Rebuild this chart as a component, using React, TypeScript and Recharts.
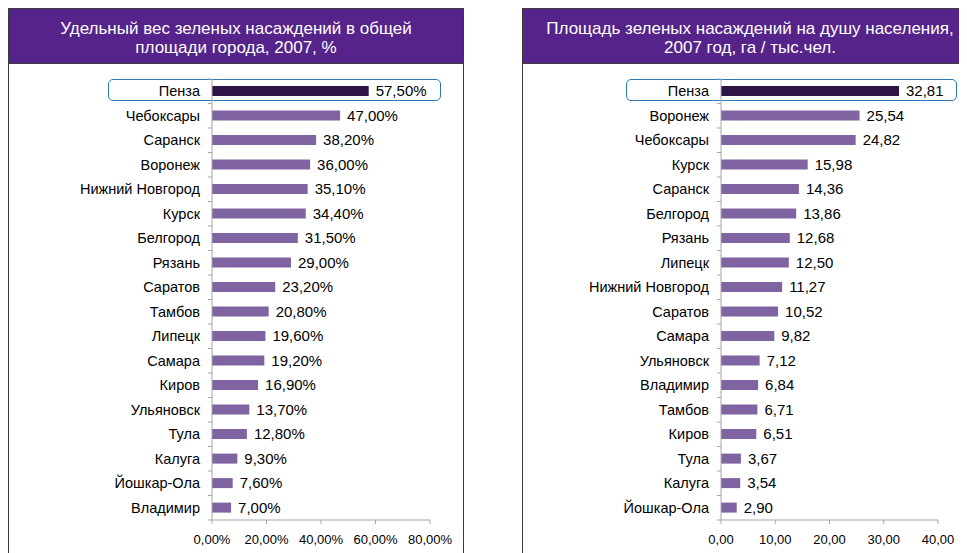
import React from 'react';
import { BarChart, Bar, XAxis, YAxis, Cell, LabelList } from 'recharts';

// left chart: share of green areas in city area, 2007, %
const shareCities = [
  'Пенза', 'Чебоксары', 'Саранск', 'Воронеж', 'Нижний Новгород', 'Курск',
  'Белгород', 'Рязань', 'Саратов', 'Тамбов', 'Липецк', 'Самара', 'Киров',
  'Ульяновск', 'Тула', 'Калуга', 'Йошкар-Ола', 'Владимир',
];
const shareValues = [
  57.5, 47.0, 38.2, 36.0, 35.1, 34.4, 31.5, 29.0, 23.2, 20.8, 19.6, 19.2,
  16.9, 13.7, 12.8, 9.3, 7.6, 7.0,
];
const shareTicks = [0, 20, 40, 60, 80];

// right chart: green area per capita, 2007, ha / thousand people
const perCapitaCities = [
  'Пенза', 'Воронеж', 'Чебоксары', 'Курск', 'Саранск', 'Белгород', 'Рязань',
  'Липецк', 'Нижний Новгород', 'Саратов', 'Самара', 'Ульяновск', 'Владимир',
  'Тамбов', 'Киров', 'Тула', 'Калуга', 'Йошкар-Ола',
];
const perCapitaValues = [
  32.81, 25.54, 24.82, 15.98, 14.36, 13.86, 12.68, 12.5, 11.27, 10.52, 9.82,
  7.12, 6.84, 6.71, 6.51, 3.67, 3.54, 2.9,
];
const perCapitaTicks = [0, 10, 20, 30, 40];

const HIGHLIGHT = 'Пенза';

const FONT = 'Arial, "Liberation Sans", sans-serif';
const HEADER_BG = '#55238A';
const BAR = '#8064A2';
const BAR_DARK = '#2E1446';
const AXIS = '#A6A6A6';

const comma = (v: number, digits: number) => v.toFixed(digits).replace('.', ',');

const CategoryTick = (props: any) => {
  const { x, y, payload, index, band } = props;
  const axisX = x + 12;
  return (
    <g>
      <text x={x} y={y} dy={5} textAnchor="end" fontSize={14.5} fill="#000" fontFamily={FONT}>
        {payload.value}
      </text>
      {index === 0 && (
        <line x1={axisX - 4} x2={axisX} y1={y - band / 2} y2={y - band / 2} stroke={AXIS} />
      )}
      <line x1={axisX - 4} x2={axisX} y1={y + band / 2} y2={y + band / 2} stroke={AXIS} />
    </g>
  );
};

interface PanelProps {
  title: string[];
  cities: string[];
  values: number[];
  ticks: number[];
  yWidth: number;
  rightMargin: number;
  tickFmt: (v: number) => string;
  labelFmt: (v: number) => string;
  left: number;
  box: { left: number; width: number };
}

const Panel: React.FC<PanelProps> = ({
  title, cities, values, ticks, yWidth, rightMargin, tickFmt, labelFmt, left, box,
}) => {
  const data = cities.map((name, i) => ({ name, value: values[i] }));
  const plotH = 441;
  const band = plotH / cities.length;
  return (
    <div
      style={{
        position: 'absolute',
        left,
        top: 0,
        width: 456,
        height: 600,
        border: '1px solid #3a3a3a',
        boxSizing: 'border-box',
        background: '#fff',
      }}
    >
      <div
        style={{
          height: 55,
          boxSizing: 'border-box',
          paddingTop: 4,
          background: HEADER_BG,
          color: '#fff',
          fontFamily: FONT,
          fontSize: 17,
          lineHeight: '19px',
          textAlign: 'center',
          display: 'flex',
          flexDirection: 'column',
          justifyContent: 'center',
          borderBottom: '1px solid #3a3a3a',
        }}
      >
        {title.map((t) => (
          <div key={t} style={{ whiteSpace: 'nowrap' }}>{t}</div>
        ))}
      </div>
      <div
        style={{
          position: 'absolute',
          left: box.left,
          top: 70,
          width: box.width,
          height: 22,
          border: '1.5px solid #2E75B6',
          borderRadius: 5,
          boxSizing: 'border-box',
        }}
      />
      <div style={{ position: 'absolute', left: -1, top: 55 }}>
        <BarChart
          width={456}
          height={490}
          data={data}
          layout="vertical"
          margin={{ top: 15, right: rightMargin, bottom: 0, left: 0 }}
          barCategoryGap="29%"
        >
          <XAxis
            type="number"
            domain={[ticks[0], ticks[ticks.length - 1]]}
            ticks={ticks}
            tickFormatter={tickFmt}
            stroke={AXIS}
            tickSize={4}
            tickMargin={11}
            height={34}
            tick={{ fill: '#000', fontSize: 13, fontFamily: FONT }}
          />
          <YAxis
            type="category"
            dataKey="name"
            width={yWidth}
            stroke={AXIS}
            tickLine={false}
            tickSize={0}
            tickMargin={12}
            interval={0}
            tick={<CategoryTick band={band} />}
          />
          <Bar dataKey="value" isAnimationActive={false}>
            {data.map((d) => (
              <Cell key={d.name} fill={d.name === HIGHLIGHT ? BAR_DARK : BAR} />
            ))}
            <LabelList
              dataKey="value"
              position="right"
              offset={7}
              formatter={(v: any) => labelFmt(Number(v))}
              style={{ fill: '#000', fontSize: 15, fontFamily: FONT }}
            />
          </Bar>
        </BarChart>
      </div>
    </div>
  );
};

export default function App() {
  return (
    <div style={{ position: 'relative', width: 959, height: 545, overflow: 'hidden', background: '#fff' }}>
      <Panel
        title={['Удельный вес зеленых насаждений в общей', 'площади города, 2007, %']}
        cities={shareCities}
        values={shareValues}
        ticks={shareTicks}
        yWidth={204}
        rightMargin={34}
        tickFmt={(v) => comma(v, 2) + '%'}
        labelFmt={(v) => comma(v, 2) + '%'}
        left={0}
        box={{ left: 99, width: 333 }}
      />
      <Panel
        title={['Площадь зеленых насаждений на душу населения,', '2007 год, га / тыс.чел.']}
        cities={perCapitaCities}
        values={perCapitaValues}
        ticks={perCapitaTicks}
        yWidth={199}
        rightMargin={40}
        tickFmt={(v) => comma(v, 2)}
        labelFmt={(v) => comma(v, 2)}
        left={514}
        box={{ left: 103, width: 331 }}
      />
    </div>
  );
}
